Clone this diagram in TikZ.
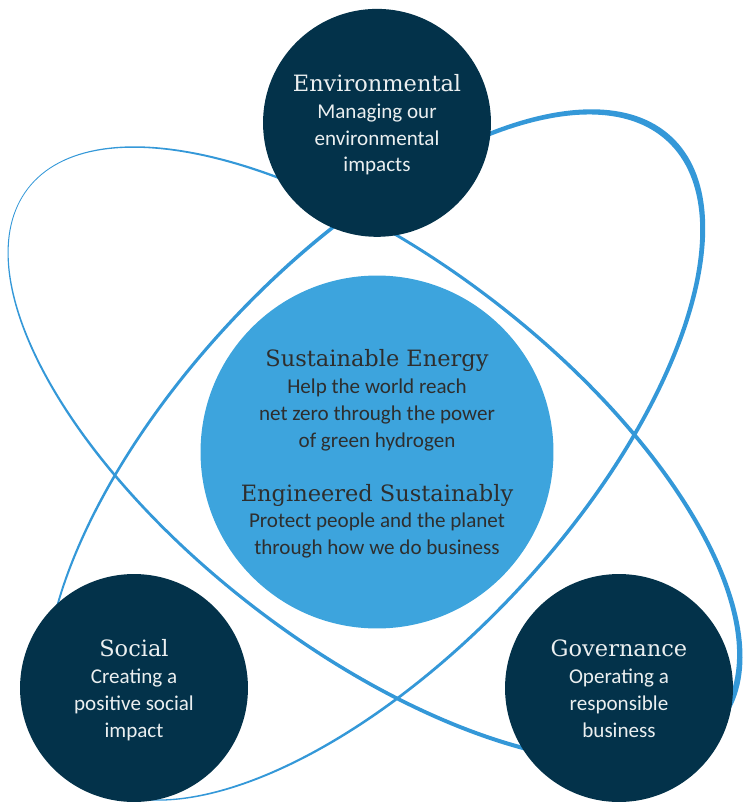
\documentclass[tikz,border=0pt]{standalone}
\usepackage{fontspec}
\setmainfont{Carlito}
\newfontfamily\headfont{DejaVu Serif}
\usepackage{xcolor}
\usepackage{tikz}
\usetikzlibrary{positioning}

\definecolor{navy}{HTML}{03324A}
\definecolor{skyblue}{HTML}{3DA4DD}
\definecolor{orbitblue}{HTML}{3498D8}

% heading line with a strut on top, closing strut for the last line
\newcommand{\heading}[1]{\rule{0pt}{13pt}{\headfont\fontsize{12.8}{15.3}\selectfont #1}}
\newcommand{\lastline}{\rule[-3pt]{0pt}{3pt}}

\begin{document}
\begin{tikzpicture}[
    x=0.02cm, y=-0.02cm,
    pillar/.style={circle, fill=navy, minimum size=4.56cm, inner sep=0pt,
                   align=center, text=white!92!navy,
                   font=\fontsize{12}{15.3}\selectfont},
    core/.style={circle, fill=skyblue, minimum size=7.06cm, inner sep=0pt,
                 align=center, text=black!82,
                 font=\fontsize{12}{15.3}\selectfont},
    orbit/.style={fill=orbitblue, even odd rule},
]
    \useasboundingbox (0,0) rectangle (743,803);

    \node[core] (core) at (377,452) {\heading{Sustainable Energy}\\Help the world reach\\net zero through the power\\of green hydrogen\\[15.3pt]\heading{Engineered Sustainably}\\Protect people and the planet\\through how we do business\lastline};

    % Orbits: thick at one end, thin at the other
    \begin{scope}[shift={(375,455)}, rotate=-37.5]
        \fill[orbit] (0,0) ellipse (438 and 196) (-2.7,0) ellipse (434.5 and 192.8);
    \end{scope}
    \begin{scope}[shift={(375,455)}, rotate=47]
        \fill[orbit] (0,0) ellipse (435 and 198) (-2.7,0) ellipse (431.5 and 194.8);
    \end{scope}

    % Pillars
    \node[pillar, above=0.76cm of core] (env) {\heading{Environmental}\\Managing our\\environmental\\impacts\lastline};
    \node[pillar] (social) at (134,688) {\heading{Social}\\Creating a\\positive social\\impact\lastline};
    \node[pillar] (gov) at (619,688) {\heading{Governance}\\Operating a\\responsible\\business\lastline};
\end{tikzpicture}
\end{document}
